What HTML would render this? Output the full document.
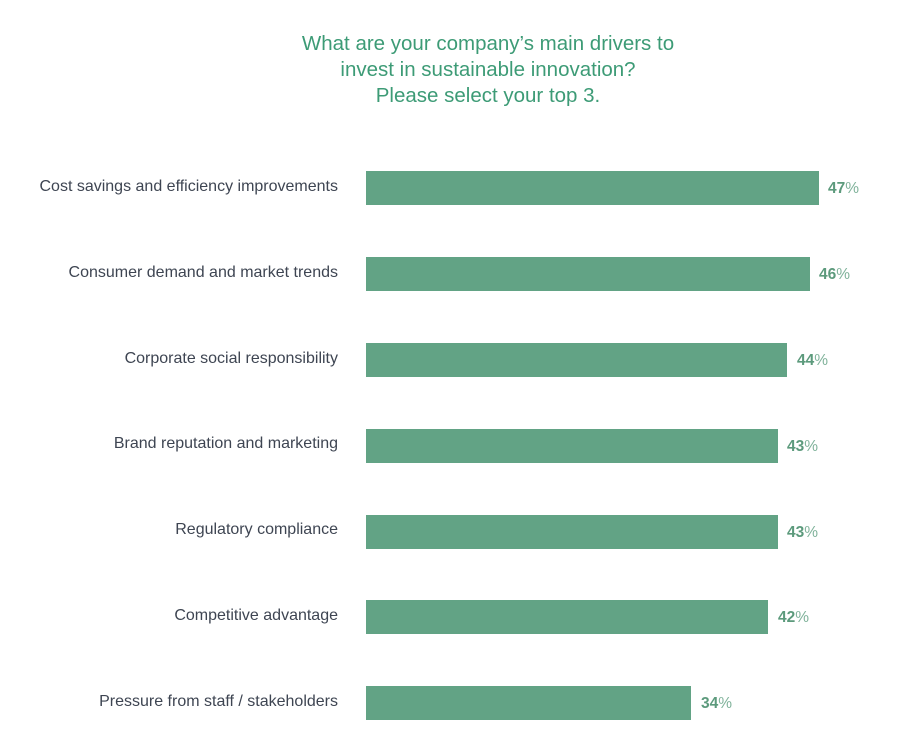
<!DOCTYPE html>
<html><head><meta charset="utf-8"><style>
body{margin:0;width:900px;height:755px;background:#fff;position:relative;font-family:"Liberation Sans",sans-serif;overflow:hidden}
.t{position:absolute;left:238px;width:500px;text-align:center;color:#3d9b76;font-size:20.5px;line-height:26px;top:31px}
.l{position:absolute;right:562px;font-size:16px;color:#3e4552;white-space:nowrap}
.b{position:absolute;left:366px;height:34px;background:#62a385}
.v{position:absolute;font-size:15.5px;color:#5c9a7c;font-weight:bold}
.v span{font-weight:normal;color:#7fb29a}
</style></head><body>
<div class="t">What are your company’s main drivers to<br>invest in sustainable innovation?<br>Please select your top 3.</div>

<div class="l" style="top:178px">Cost savings and efficiency improvements</div>
<div class="b" style="top:171px;width:453px"></div>
<div class="v" style="top:180px;left:828px">47<span>%</span></div>

<div class="l" style="top:264px">Consumer demand and market trends</div>
<div class="b" style="top:257px;width:444px"></div>
<div class="v" style="top:266px;left:819px">46<span>%</span></div>

<div class="l" style="top:350px">Corporate social responsibility</div>
<div class="b" style="top:343px;width:421px"></div>
<div class="v" style="top:352px;left:797px">44<span>%</span></div>

<div class="l" style="top:435px">Brand reputation and marketing</div>
<div class="b" style="top:429px;width:412px"></div>
<div class="v" style="top:438px;left:787px">43<span>%</span></div>

<div class="l" style="top:521px">Regulatory compliance</div>
<div class="b" style="top:515px;width:412px"></div>
<div class="v" style="top:524px;left:787px">43<span>%</span></div>

<div class="l" style="top:607px">Competitive advantage</div>
<div class="b" style="top:600px;width:402px"></div>
<div class="v" style="top:609px;left:778px">42<span>%</span></div>

<div class="l" style="top:693px">Pressure from staff / stakeholders</div>
<div class="b" style="top:686px;width:325px"></div>
<div class="v" style="top:695px;left:701px">34<span>%</span></div>
</body></html>
